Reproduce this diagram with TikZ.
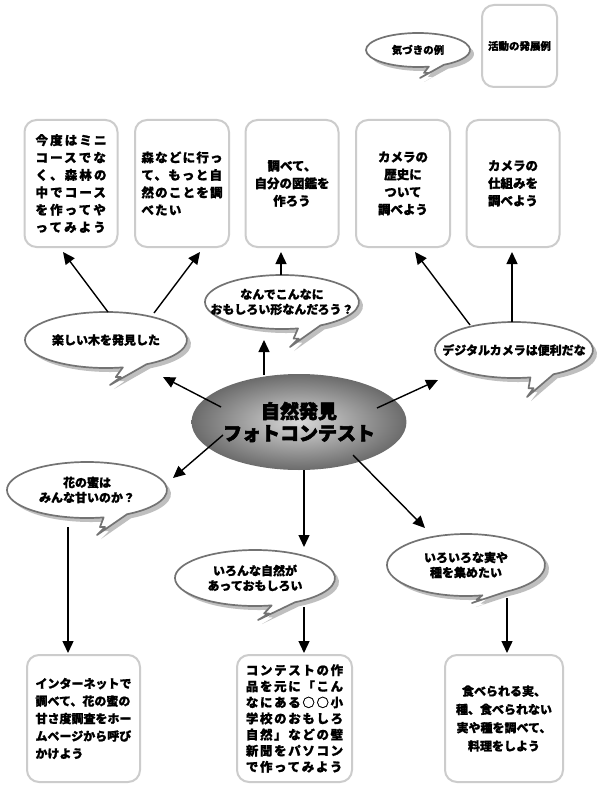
\documentclass[tikz,border=0pt]{standalone}
\usepackage{fontspec}
\newfontfamily\jp{Noto Sans CJK JP}[FakeBold=1.1]
\newfontfamily\jpheavy{Noto Sans CJK JP}[FakeBold=3]
\usetikzlibrary{shapes.geometric,shadows,calc,arrows.meta}

\tikzset{
  bubbleshape/.style={fill=white, draw=black!55, line width=1.7pt, line join=round,
    drop shadow={shadow xshift=4pt, shadow yshift=-4pt, fill=black!25, opacity=1}},
  qtext/.style={shape=ellipse, inner sep=0pt, align=center,
    font=\jp\bfseries\fontsize{12}{15}\selectfont},
  card/.style={rectangle, rounded corners=12pt, draw=black!20, line width=2pt,
    minimum width=93pt, minimum height=127pt, inner sep=0pt, align=center,
    font=\jp\bfseries\fontsize{12.5}{17.5}\selectfont},
  arr/.style={line width=1.4pt, -{Triangle[length=12pt,width=11pt]}},
}

% #1 name, #2 x, #3 y, #4 rx, #5 ry, #6 tip x, #7 tip y, #8 text
\newcommand{\speech}[8]{%
  \coordinate (#1-c) at (#2,#3);
  \coordinate (#1-bl) at ($(#1-c)+(78:#4 and #5)$);
  \coordinate (#1-p) at ($(#1-bl)!0.55!(#6,#7)$);
  \path[bubbleshape] (#1-bl) arc[start angle=78, end angle=420, x radius=#4, y radius=#5]
     -- (#6,#7) -- ([xshift=5pt]#1-p) -- (#1-p) -- cycle;
  \node[qtext] (#1) at (#1-c) {#8};
}

\begin{document}
\begin{tikzpicture}[x=1pt,y=-1pt]
\useasboundingbox (0,0) rectangle (600,789);
\fill[white] (0,0) rectangle (600,789);

% legend
\speech{Lq}{418}{50}{52}{17}{420}{78}{\fontsize{10.5}{13}\selectfont 気づきの例}
\node[card, minimum width=75pt, minimum height=82pt,
  font=\jp\bfseries\fontsize{10.5}{13}\selectfont] (Lb) at (519.5,46) {活動の発展例};

% speech bubbles
\speech{Q1}{106}{340}{81}{28}{110}{385}{楽しい木を発見した}
\speech{Q2}{282}{302}{77}{27}{290}{347}{なんでこんなに\\おもしろい形なんだろう？}
\speech{Q3}{514}{350}{79}{28}{527}{397}{デジタルカメラは便利だな}
\speech{Q4}{87}{490}{80}{28}{97}{535}{花の蜜は\\みんな甘いのか？}
\speech{Q5}{255}{578}{80}{28}{258}{620}{いろんな自然が\\あっておもしろい}
\speech{Q6}{466}{565}{79}{31}{472}{603}{いろいろな実や\\種を集めたい}

% centre
\node[ellipse, minimum width=154pt, minimum height=96pt, inner sep=0pt,
  inner color=black!15, outer color=black!58, align=center,
  font=\jpheavy\bfseries\fontsize{19}{22}\selectfont] (C) at (299,422)
  {自然発見\\フォトコンテスト};

% top cards
\node[card, align=left, font=\jp\bfseries\fontsize{12.5}{17.4}\selectfont\addfontfeature{LetterSpace=17}]
  (B1) at (71,183.5) {今度はミニ\\コースでな\\く、森林の\\中でコース\\を作ってや\\ってみよう};
\node[card, minimum width=94pt, align=left, font=\jp\bfseries\fontsize{12.5}{17.5}\selectfont\addfontfeature{LetterSpace=10}]
  (B2) at (182,183.5) {森などに行っ\\て、もっと自\\然のことを調\\べたい};
\node[card] (B3) at (292,183.5) {調べて、\\自分の図鑑を\\作ろう};
\node[card, minimum width=94pt] (B4) at (403,183.5) {カメラの\\歴史に\\ついて\\調べよう};
\node[card] (B5) at (513,183.5) {カメラの\\仕組みを\\調べよう};

% bottom cards
\node[card, minimum width=113pt, align=left, font=\jp\bfseries\fontsize{12}{17.5}\selectfont]
  (D1) at (83.5,718.5) {インターネットで\\調べて、花の蜜の\\甘さ度調査をホー\\ムページから呼び\\かけよう};
\node[card, minimum width=115pt, align=left, font=\jp\bfseries\fontsize{12.5}{16.1}\selectfont\addfontfeature{LetterSpace=13}]
  (D2) at (294.5,718.5) {コンテストの作\\品を元に「こん\\なにある○○小\\学校のおもしろ\\自然」などの壁\\新聞をパソコン\\で作ってみよう};
\node[card, minimum width=118pt, font=\jp\bfseries\fontsize{12}{18.3}\selectfont]
  (D3) at (504,718.5) {食べられる実、\\種、食べられない\\実や種を調べて、\\料理をしよう};

% arrows from centre
\draw[arr] ([shift={(-78,-15)}]C.center) -- ([shift={(57,37)}]Q1.center);
\draw[arr] ([shift={(-35,-47)}]C.center) -- ([shift={(-18,38)}]Q2.center);
\draw[arr] ([shift={(78,-14)}]C.center) -- ([shift={(-76,30)}]Q3.center);
\draw[arr] ([shift={(-76,13)}]C.center) -- ([shift={(86,-12)}]Q4.center);
\draw[arr] ([shift={(5,48)}]C.center) -- ([shift={(49,-31)}]Q5.center);
\draw[arr] ([shift={(54,33)}]C.center) -- ([shift={(-41,-37)}]Q6.center);

% arrows to cards
\draw[arr] ([shift={(2,-28)}]Q1.center) -- ([shift={(-8,68.5)}]B1.center);
\draw[arr] ([shift={(48,-27)}]Q1.center) -- ([shift={(18,68.5)}]B2.center);
\draw[arr] ([shift={(-1,-27)}]Q2.center) -- ([shift={(-11,68.5)}]B3.center);
\draw[arr] ([shift={(-44,-25)}]Q3.center) -- ([shift={(12,68.5)}]B4.center);
\draw[arr] ([shift={(-2,-28)}]Q3.center) -- ([shift={(-1,68.5)}]B5.center);
\draw[arr] ([shift={(-19,37)}]Q4.center) -- ([shift={(-15.5,-65.5)}]D1.center);
\draw[arr] ([shift={(49,29)}]Q5.center) -- ([shift={(9.5,-65.5)}]D2.center);
\draw[arr] ([shift={(41,33)}]Q6.center) -- ([shift={(3,-65.5)}]D3.center);
\end{tikzpicture}
\end{document}
